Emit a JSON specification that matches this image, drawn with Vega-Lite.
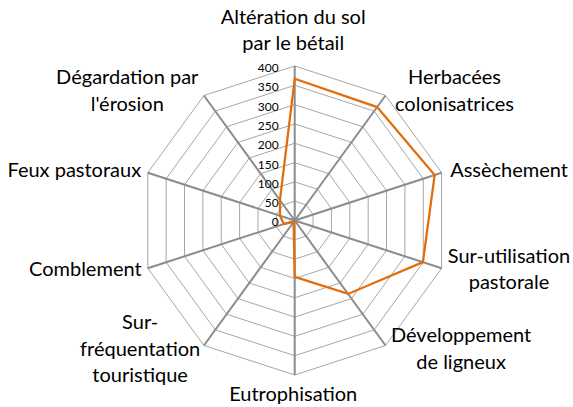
{
  "$schema": "https://vega.github.io/schema/vega-lite/v6.json",
  "width": 573,
  "height": 407,
  "padding": 0,
  "autosize": {"type": "none"},
  "background": "white",
  "config": {"view": {"stroke": null}, "font": "Lato"},
  "datasets": {
    "main": [
      {"cat": "Altération du sol\npar le bétail", "v": 367},
      {"cat": "Herbacées\ncolonisatrices", "v": 363},
      {"cat": "Assèchement", "v": 381},
      {"cat": "Sur-utilisation\npastorale", "v": 349},
      {"cat": "Développement\nde ligneux", "v": 235},
      {"cat": "Eutrophisation", "v": 146},
      {"cat": "Sur-\nfréquentation\ntouristique", "v": 5},
      {"cat": "Comblement", "v": 30},
      {"cat": "Feux pastoraux", "v": 40},
      {"cat": "Dégardation par\nl'érosion", "v": 65}
    ],
    "rings": [
      {"r": 50, "k": [0, 1, 2, 3, 4, 5, 6, 7, 8, 9]},
      {"r": 100, "k": [0, 1, 2, 3, 4, 5, 6, 7, 8, 9]},
      {"r": 150, "k": [0, 1, 2, 3, 4, 5, 6, 7, 8, 9]},
      {"r": 200, "k": [0, 1, 2, 3, 4, 5, 6, 7, 8, 9]},
      {"r": 250, "k": [0, 1, 2, 3, 4, 5, 6, 7, 8, 9]},
      {"r": 300, "k": [0, 1, 2, 3, 4, 5, 6, 7, 8, 9]},
      {"r": 350, "k": [0, 1, 2, 3, 4, 5, 6, 7, 8, 9]},
      {"r": 400, "k": [0, 1, 2, 3, 4, 5, 6, 7, 8, 9]}
    ],
    "ticks": [
      {"t": 0}, {"t": 50}, {"t": 100}, {"t": 150}, {"t": 200},
      {"t": 250}, {"t": 300}, {"t": 350}, {"t": 400}
    ]
  },
  "layer": [
    {
      "data": {"name": "rings"},
      "transform": [
        {"flatten": ["k"]},
        {"calculate": "datum.k * PI / 5", "as": "a"},
        {"calculate": "datum.r * sin(datum.a)", "as": "px"},
        {"calculate": "datum.r * cos(datum.a)", "as": "py"}
      ],
      "mark": {"type": "line", "interpolate": "linear-closed", "stroke": "#a6a6a6", "strokeWidth": 1},
      "encoding": {
        "x": {"field": "px", "type": "quantitative", "scale": {"domain": [-763.0, 720.5], "zero": false, "nice": false}, "axis": null},
        "y": {"field": "py", "type": "quantitative", "scale": {"domain": [-482.9, 570.9], "zero": false, "nice": false}, "axis": null},
        "detail": {"field": "r", "type": "nominal"},
        "order": {"field": "k", "type": "quantitative"}
      }
    },
    {
      "data": {"name": "main"},
      "transform": [
        {"window": [{"op": "row_number", "as": "k"}]},
        {"calculate": "(datum.k - 1) * PI / 5", "as": "a"},
        {"calculate": "0", "as": "zx"},
        {"calculate": "0", "as": "zy"},
        {"calculate": "400 * sin(datum.a)", "as": "ex"},
        {"calculate": "400 * cos(datum.a)", "as": "ey"}
      ],
      "mark": {"type": "rule", "stroke": "#8c8c8c", "strokeWidth": 2},
      "encoding": {
        "x": {"field": "zx", "type": "quantitative"},
        "y": {"field": "zy", "type": "quantitative"},
        "x2": {"field": "ex"},
        "y2": {"field": "ey"}
      }
    },
    {
      "data": {"name": "main"},
      "transform": [
        {"window": [{"op": "row_number", "as": "k"}]},
        {"calculate": "(datum.k - 1) * PI / 5", "as": "a"},
        {"calculate": "datum.v * sin(datum.a)", "as": "px"},
        {"calculate": "datum.v * cos(datum.a)", "as": "py"}
      ],
      "mark": {"type": "line", "interpolate": "linear-closed", "stroke": "#e46c0a", "strokeWidth": 2.25},
      "encoding": {
        "x": {"field": "px", "type": "quantitative"},
        "y": {"field": "py", "type": "quantitative"},
        "order": {"field": "k", "type": "quantitative"}
      }
    },
    {
      "data": {"name": "ticks"},
      "transform": [{"calculate": "0", "as": "zx"}],
      "mark": {"type": "text", "align": "right", "baseline": "middle", "dx": -16, "dy": 2, "fontSize": 12, "fill": "#000000"},
      "encoding": {
        "x": {"field": "zx", "type": "quantitative"},
        "y": {"field": "t", "type": "quantitative"},
        "text": {"field": "t", "type": "quantitative"}
      }
    },
    {
      "data": {"name": "main"},
      "transform": [
        {"window": [{"op": "row_number", "as": "k"}]},
        {"calculate": "(datum.k - 1) * PI / 5", "as": "a"},
        {"calculate": "split(datum.cat, '\\n')", "as": "lines"},
        {"calculate": "length(datum.lines)", "as": "n"},
        {"flatten": ["lines"], "as": ["line"]},
        {"window": [{"op": "row_number", "as": "j"}], "groupby": ["k"]},
        {"calculate": "length(datum.line) - length(replace(datum.line, regexp(\"[iltrfj' -]\", 'g'), ''))", "as": "nn"},
        {"calculate": "length(datum.line) - length(replace(datum.line, regexp('[mwMWDCAHOGQ]', 'g'), ''))", "as": "nw"},
        {"calculate": "20 * (0.52 * length(datum.line) - 0.227 * datum.nn + 0.25 * datum.nw)", "as": "lw"},
        {"joinaggregate": [{"op": "max", "field": "lw", "as": "w"}], "groupby": ["k"]},
        {"calculate": "sin(datum.a)", "as": "s"},
        {"calculate": "cos(datum.a)", "as": "c"},
        {"calculate": "abs(datum.s) < 0.1 ? -1.5 : (datum.s > 0 ? 1 : -1) * (7.5 + datum.w / 2)", "as": "dxp"},
        {"calculate": "datum.c > 0.9 ? -(8 + datum.n * 13.5) : (datum.c < -0.9 ? (6.5 + datum.n * 13.5) : -5 * datum.c)", "as": "dyp"},
        {"calculate": "datum.dyp + (datum.j - (datum.n + 1) / 2) * 26.5", "as": "dyl"},
        {"calculate": "400 * datum.s + datum.dxp * 2.589", "as": "lx"},
        {"calculate": "400 * datum.c - datum.dyl * 2.589", "as": "ly"}
      ],
      "mark": {"type": "text", "align": "center", "baseline": "middle", "fontSize": 20, "fill": "#000000"},
      "encoding": {
        "x": {"field": "lx", "type": "quantitative"},
        "y": {"field": "ly", "type": "quantitative"},
        "text": {"field": "line", "type": "nominal"}
      }
    }
  ]
}
